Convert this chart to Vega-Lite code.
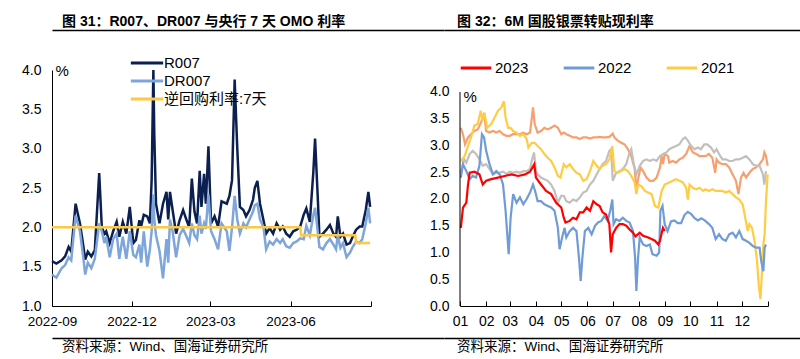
{
"$schema":"https://vega.github.io/schema/vega-lite/v6.json",
"background":"white",
"padding":{"left":8,"top":15,"right":0,"bottom":0},
"config":{"font":"Liberation Sans, Noto Sans CJK SC","view":{"stroke":null},"axis":{"grid":false,"labelColor":"#000","titleColor":"#000","domainColor":"#000","tickColor":"#000"},"legend":{"labelColor":"#000"}},
"spacing":10,
"vconcat":[
{"hconcat":[
 {"width":392,"height":13,"data":{"values":[]},"mark":{"type":"point","opacity":0},
  "encoding":{"x":{"field":"a","type":"quantitative","scale":{"domain":[0,1]},"axis":{"orient":"top","domain":true,"domainWidth":1.5,"ticks":false,"labels":false,"title":null}}},
  "title":{"text":"图 31：R007、DR007 与央行 7 天 OMO 利率","anchor":"start","dx":10,"offset":1,"fontSize":14,"fontWeight":"bold","color":"#000"}},
 {"width":383,"height":13,"data":{"values":[]},"mark":{"type":"point","opacity":0},
  "encoding":{"x":{"field":"a","type":"quantitative","scale":{"domain":[0,1]},"axis":{"orient":"top","domain":true,"domainWidth":1.5,"ticks":false,"labels":false,"title":null}}},
  "title":{"text":"图 32：6M 国股银票转贴现利率","anchor":"start","dx":13,"offset":1,"fontSize":14,"fontWeight":"bold","color":"#000"}}
],"spacing":0},
{"hconcat":[
 {"width":319,"height":236,
  "data":{"values":[
{"t":"2022-09-01","s":"R007","v":1.57},{"t":"2022-09-06","s":"R007","v":1.54},{"t":"2022-09-12","s":"R007","v":1.58},{"t":"2022-09-16","s":"R007","v":1.63},{"t":"2022-09-20","s":"R007","v":1.75},{"t":"2022-09-23","s":"R007","v":1.69},{"t":"2022-09-28","s":"R007","v":2.30},{"t":"2022-10-03","s":"R007","v":2.05},{"t":"2022-10-07","s":"R007","v":1.75},{"t":"2022-10-09","s":"R007","v":1.59},{"t":"2022-10-12","s":"R007","v":1.69},{"t":"2022-10-16","s":"R007","v":1.63},{"t":"2022-10-20","s":"R007","v":1.71},{"t":"2022-10-25","s":"R007","v":2.69},{"t":"2022-10-28","s":"R007","v":2.00},{"t":"2022-10-31","s":"R007","v":1.92},{"t":"2022-11-02","s":"R007","v":1.95},{"t":"2022-11-06","s":"R007","v":1.80},{"t":"2022-11-10","s":"R007","v":1.95},{"t":"2022-11-14","s":"R007","v":2.07},{"t":"2022-11-17","s":"R007","v":1.88},{"t":"2022-11-21","s":"R007","v":2.07},{"t":"2022-11-25","s":"R007","v":1.92},{"t":"2022-11-29","s":"R007","v":2.26},{"t":"2022-12-03","s":"R007","v":1.80},{"t":"2022-12-06","s":"R007","v":1.84},{"t":"2022-12-10","s":"R007","v":2.09},{"t":"2022-12-12","s":"R007","v":2.01},{"t":"2022-12-15","s":"R007","v":2.16},{"t":"2022-12-19","s":"R007","v":2.14},{"t":"2022-12-22","s":"R007","v":2.05},{"t":"2022-12-24","s":"R007","v":2.60},{"t":"2022-12-26","s":"R007","v":4.00},{"t":"2022-12-27","s":"R007","v":3.20},{"t":"2022-12-29","s":"R007","v":2.30},{"t":"2023-01-02","s":"R007","v":2.05},{"t":"2023-01-06","s":"R007","v":2.30},{"t":"2023-01-10","s":"R007","v":2.45},{"t":"2023-01-12","s":"R007","v":2.10},{"t":"2023-01-14","s":"R007","v":2.45},{"t":"2023-01-17","s":"R007","v":2.22},{"t":"2023-01-21","s":"R007","v":1.92},{"t":"2023-01-25","s":"R007","v":2.09},{"t":"2023-01-29","s":"R007","v":2.22},{"t":"2023-02-02","s":"R007","v":2.09},{"t":"2023-02-05","s":"R007","v":2.00},{"t":"2023-02-08","s":"R007","v":2.62},{"t":"2023-02-11","s":"R007","v":2.20},{"t":"2023-02-14","s":"R007","v":2.05},{"t":"2023-02-17","s":"R007","v":2.72},{"t":"2023-02-19","s":"R007","v":2.26},{"t":"2023-02-22","s":"R007","v":2.68},{"t":"2023-02-24","s":"R007","v":2.30},{"t":"2023-02-27","s":"R007","v":3.03},{"t":"2023-03-02","s":"R007","v":2.05},{"t":"2023-03-06","s":"R007","v":2.14},{"t":"2023-03-10","s":"R007","v":2.01},{"t":"2023-03-14","s":"R007","v":2.33},{"t":"2023-03-20","s":"R007","v":2.30},{"t":"2023-03-23","s":"R007","v":2.40},{"t":"2023-03-26","s":"R007","v":2.60},{"t":"2023-03-29","s":"R007","v":3.88},{"t":"2023-04-01","s":"R007","v":3.00},{"t":"2023-04-04","s":"R007","v":2.26},{"t":"2023-04-08","s":"R007","v":2.22},{"t":"2023-04-11","s":"R007","v":2.14},{"t":"2023-04-15","s":"R007","v":2.22},{"t":"2023-04-19","s":"R007","v":2.35},{"t":"2023-04-21","s":"R007","v":2.50},{"t":"2023-04-24","s":"R007","v":2.59},{"t":"2023-04-27","s":"R007","v":2.30},{"t":"2023-05-01","s":"R007","v":2.09},{"t":"2023-05-04","s":"R007","v":1.92},{"t":"2023-05-08","s":"R007","v":1.99},{"t":"2023-05-12","s":"R007","v":1.92},{"t":"2023-05-16","s":"R007","v":2.05},{"t":"2023-05-20","s":"R007","v":1.97},{"t":"2023-05-23","s":"R007","v":2.01},{"t":"2023-05-27","s":"R007","v":1.92},{"t":"2023-05-31","s":"R007","v":1.88},{"t":"2023-06-04","s":"R007","v":1.95},{"t":"2023-06-08","s":"R007","v":1.97},{"t":"2023-06-12","s":"R007","v":2.01},{"t":"2023-06-16","s":"R007","v":2.16},{"t":"2023-06-19","s":"R007","v":2.24},{"t":"2023-06-23","s":"R007","v":2.07},{"t":"2023-06-27","s":"R007","v":2.70},{"t":"2023-06-29","s":"R007","v":3.13},{"t":"2023-07-02","s":"R007","v":2.40},{"t":"2023-07-04","s":"R007","v":1.88},{"t":"2023-07-08","s":"R007","v":1.92},{"t":"2023-07-12","s":"R007","v":1.97},{"t":"2023-07-16","s":"R007","v":2.03},{"t":"2023-07-20","s":"R007","v":1.92},{"t":"2023-07-23","s":"R007","v":1.88},{"t":"2023-07-25","s":"R007","v":2.14},{"t":"2023-07-28","s":"R007","v":1.88},{"t":"2023-07-31","s":"R007","v":1.92},{"t":"2023-08-04","s":"R007","v":1.78},{"t":"2023-08-08","s":"R007","v":1.80},{"t":"2023-08-11","s":"R007","v":1.88},{"t":"2023-08-15","s":"R007","v":1.97},{"t":"2023-08-19","s":"R007","v":2.01},{"t":"2023-08-22","s":"R007","v":2.01},{"t":"2023-08-26","s":"R007","v":2.22},{"t":"2023-08-29","s":"R007","v":2.45},{"t":"2023-08-31","s":"R007","v":2.26},
{"t":"2022-09-01","s":"DR007","v":1.40},{"t":"2022-09-06","s":"DR007","v":1.36},{"t":"2022-09-12","s":"DR007","v":1.48},{"t":"2022-09-16","s":"DR007","v":1.52},{"t":"2022-09-20","s":"DR007","v":1.62},{"t":"2022-09-23","s":"DR007","v":1.58},{"t":"2022-09-28","s":"DR007","v":2.15},{"t":"2022-10-03","s":"DR007","v":1.95},{"t":"2022-10-07","s":"DR007","v":1.60},{"t":"2022-10-09","s":"DR007","v":1.40},{"t":"2022-10-12","s":"DR007","v":1.55},{"t":"2022-10-16","s":"DR007","v":1.48},{"t":"2022-10-20","s":"DR007","v":1.60},{"t":"2022-10-25","s":"DR007","v":2.05},{"t":"2022-10-28","s":"DR007","v":1.95},{"t":"2022-10-31","s":"DR007","v":1.80},{"t":"2022-11-02","s":"DR007","v":1.88},{"t":"2022-11-06","s":"DR007","v":1.62},{"t":"2022-11-10","s":"DR007","v":1.85},{"t":"2022-11-14","s":"DR007","v":1.92},{"t":"2022-11-17","s":"DR007","v":1.60},{"t":"2022-11-21","s":"DR007","v":1.88},{"t":"2022-11-25","s":"DR007","v":1.60},{"t":"2022-11-29","s":"DR007","v":1.95},{"t":"2022-12-03","s":"DR007","v":1.65},{"t":"2022-12-06","s":"DR007","v":1.62},{"t":"2022-12-10","s":"DR007","v":1.78},{"t":"2022-12-12","s":"DR007","v":1.55},{"t":"2022-12-15","s":"DR007","v":1.95},{"t":"2022-12-19","s":"DR007","v":1.50},{"t":"2022-12-22","s":"DR007","v":1.72},{"t":"2022-12-24","s":"DR007","v":1.95},{"t":"2022-12-26","s":"DR007","v":2.42},{"t":"2022-12-27","s":"DR007","v":2.10},{"t":"2022-12-29","s":"DR007","v":1.90},{"t":"2023-01-02","s":"DR007","v":1.70},{"t":"2023-01-06","s":"DR007","v":1.35},{"t":"2023-01-10","s":"DR007","v":1.85},{"t":"2023-01-12","s":"DR007","v":1.55},{"t":"2023-01-14","s":"DR007","v":2.10},{"t":"2023-01-17","s":"DR007","v":1.95},{"t":"2023-01-21","s":"DR007","v":1.62},{"t":"2023-01-25","s":"DR007","v":1.90},{"t":"2023-01-29","s":"DR007","v":1.98},{"t":"2023-02-02","s":"DR007","v":1.88},{"t":"2023-02-05","s":"DR007","v":1.80},{"t":"2023-02-08","s":"DR007","v":2.05},{"t":"2023-02-11","s":"DR007","v":1.90},{"t":"2023-02-14","s":"DR007","v":1.85},{"t":"2023-02-17","s":"DR007","v":2.15},{"t":"2023-02-19","s":"DR007","v":1.92},{"t":"2023-02-22","s":"DR007","v":2.05},{"t":"2023-02-24","s":"DR007","v":1.98},{"t":"2023-02-27","s":"DR007","v":2.42},{"t":"2023-03-02","s":"DR007","v":1.95},{"t":"2023-03-06","s":"DR007","v":1.85},{"t":"2023-03-10","s":"DR007","v":1.72},{"t":"2023-03-14","s":"DR007","v":2.05},{"t":"2023-03-20","s":"DR007","v":1.95},{"t":"2023-03-23","s":"DR007","v":1.70},{"t":"2023-03-26","s":"DR007","v":2.00},{"t":"2023-03-29","s":"DR007","v":2.40},{"t":"2023-04-01","s":"DR007","v":2.10},{"t":"2023-04-04","s":"DR007","v":1.92},{"t":"2023-04-08","s":"DR007","v":2.05},{"t":"2023-04-11","s":"DR007","v":2.00},{"t":"2023-04-15","s":"DR007","v":2.10},{"t":"2023-04-19","s":"DR007","v":2.20},{"t":"2023-04-21","s":"DR007","v":2.28},{"t":"2023-04-24","s":"DR007","v":2.30},{"t":"2023-04-27","s":"DR007","v":2.10},{"t":"2023-05-01","s":"DR007","v":2.00},{"t":"2023-05-04","s":"DR007","v":1.72},{"t":"2023-05-08","s":"DR007","v":1.82},{"t":"2023-05-12","s":"DR007","v":1.78},{"t":"2023-05-16","s":"DR007","v":1.85},{"t":"2023-05-20","s":"DR007","v":1.80},{"t":"2023-05-23","s":"DR007","v":1.85},{"t":"2023-05-27","s":"DR007","v":1.76},{"t":"2023-05-31","s":"DR007","v":1.74},{"t":"2023-06-04","s":"DR007","v":1.80},{"t":"2023-06-08","s":"DR007","v":1.82},{"t":"2023-06-12","s":"DR007","v":1.86},{"t":"2023-06-16","s":"DR007","v":1.85},{"t":"2023-06-19","s":"DR007","v":2.02},{"t":"2023-06-23","s":"DR007","v":1.90},{"t":"2023-06-27","s":"DR007","v":2.15},{"t":"2023-06-29","s":"DR007","v":2.25},{"t":"2023-07-02","s":"DR007","v":1.95},{"t":"2023-07-04","s":"DR007","v":1.75},{"t":"2023-07-08","s":"DR007","v":1.72},{"t":"2023-07-12","s":"DR007","v":1.80},{"t":"2023-07-16","s":"DR007","v":1.85},{"t":"2023-07-20","s":"DR007","v":1.78},{"t":"2023-07-23","s":"DR007","v":1.72},{"t":"2023-07-25","s":"DR007","v":1.90},{"t":"2023-07-28","s":"DR007","v":1.74},{"t":"2023-07-31","s":"DR007","v":1.80},{"t":"2023-08-04","s":"DR007","v":1.62},{"t":"2023-08-08","s":"DR007","v":1.68},{"t":"2023-08-11","s":"DR007","v":1.75},{"t":"2023-08-15","s":"DR007","v":1.82},{"t":"2023-08-19","s":"DR007","v":1.80},{"t":"2023-08-22","s":"DR007","v":1.85},{"t":"2023-08-26","s":"DR007","v":2.05},{"t":"2023-08-29","s":"DR007","v":2.25},{"t":"2023-08-31","s":"DR007","v":2.05},
{"t":"2022-09-01","s":"逆回购利率:7天","v":2.0},{"t":"2023-06-12","s":"逆回购利率:7天","v":2.0},{"t":"2023-06-13","s":"逆回购利率:7天","v":1.9},{"t":"2023-08-14","s":"逆回购利率:7天","v":1.9},{"t":"2023-08-15","s":"逆回购利率:7天","v":1.8},{"t":"2023-08-31","s":"逆回购利率:7天","v":1.8}
  ]},
  "mark":{"type":"line","strokeWidth":2.5},
  "encoding":{
   "x":{"field":"t","type":"temporal","scale":{"type":"utc","domain":[{"year":2022,"month":9,"date":1,"utc":true},{"year":2023,"month":9,"date":1,"utc":true}]},
        "axis":{"values":[{"year":2022,"month":9,"date":1,"utc":true},{"year":2022,"month":12,"date":1,"utc":true},{"year":2023,"month":3,"date":1,"utc":true},{"year":2023,"month":6,"date":1,"utc":true},{"year":2023,"month":9,"date":1,"utc":true}],"tickCount":20,
        "labelExpr":"utcFormat(datum.value, '%Y-%m') == '2023-09' ? '' : utcFormat(datum.value, '%Y-%m')","title":null,"tickSize":-5,"labelPadding":13,"labelFontSize":13.5,"labelFlush":false,"labelOverlap":false}},
   "y":{"field":"v","type":"quantitative","scale":{"domain":[1,4],"nice":false,"zero":false},
        "axis":{"values":[1,1.5,2,2.5,3,3.5,4],"tickCount":20,"format":".1f","title":"%","titleAngle":0,"titleX":3,"titleY":0,"titleAlign":"left","titleBaseline":"middle","titleFontSize":15,"titleFontWeight":"normal","ticks":false,"labelPadding":11,"labelFontSize":14,"minExtent":44}},
   "color":{"field":"s","type":"nominal","scale":{"domain":["R007","DR007","逆回购利率:7天"],"range":["#0b1f50","#7ea6da","#fdc842"]},
        "legend":{"orient":"none","legendX":85,"legendY":-17,"title":null,"symbolType":"M-1.9,0H1.9","symbolSize":289,"symbolStrokeWidth":3,"symbolFillColor":"transparent","labelFontSize":15,"labelOffset":7,"rowPadding":0}}
  }},
 {"width":308,"height":236,
  "data":{"values":[
{"y":"2019","d":1,"v":3.33},{"y":"2019","d":3.5,"v":3.21},{"y":"2019","d":6,"v":3.02},{"y":"2019","d":9.5,"v":3.15},{"y":"2019","d":13,"v":3.21},{"y":"2019","d":17,"v":3.27},{"y":"2019","d":21,"v":3.30},{"y":"2019","d":25,"v":3.43},{"y":"2019","d":28.5,"v":3.61},{"y":"2019","d":31,"v":3.27},{"y":"2019","d":35,"v":3.24},{"y":"2019","d":39,"v":3.27},{"y":"2019","d":43,"v":3.24},{"y":"2019","d":47,"v":3.27},{"y":"2019","d":51,"v":3.21},{"y":"2019","d":55,"v":3.18},{"y":"2019","d":59,"v":3.18},{"y":"2019","d":63,"v":3.21},{"y":"2019","d":67,"v":3.21},{"y":"2019","d":71,"v":3.21},{"y":"2019","d":75,"v":3.24},{"y":"2019","d":79,"v":3.21},{"y":"2019","d":83,"v":3.24},{"y":"2019","d":84.5,"v":3.43},{"y":"2019","d":86.5,"v":3.71},{"y":"2019","d":88.5,"v":3.40},{"y":"2019","d":92,"v":3.24},{"y":"2019","d":96,"v":3.27},{"y":"2019","d":100,"v":3.33},{"y":"2019","d":104,"v":3.30},{"y":"2019","d":108,"v":3.33},{"y":"2019","d":112,"v":3.37},{"y":"2019","d":116,"v":3.33},{"y":"2019","d":120,"v":3.21},{"y":"2019","d":123,"v":3.24},{"y":"2019","d":126,"v":3.21},{"y":"2019","d":130,"v":3.18},{"y":"2019","d":134,"v":3.15},{"y":"2019","d":138,"v":3.15},{"y":"2019","d":142,"v":3.12},{"y":"2019","d":146,"v":3.15},{"y":"2019","d":150,"v":3.15},{"y":"2019","d":154,"v":3.13},{"y":"2019","d":158,"v":3.15},{"y":"2019","d":162,"v":3.15},{"y":"2019","d":165.5,"v":3.16},{"y":"2019","d":169,"v":3.15},{"y":"2019","d":173,"v":3.15},{"y":"2019","d":177,"v":3.16},{"y":"2019","d":181,"v":3.22},{"y":"2019","d":183,"v":3.15},{"y":"2019","d":187,"v":3.09},{"y":"2019","d":191,"v":3.05},{"y":"2019","d":195,"v":3.02},{"y":"2019","d":199,"v":2.93},{"y":"2019","d":203,"v":2.80},{"y":"2019","d":207,"v":2.56},{"y":"2019","d":209,"v":2.15},{"y":"2019","d":211,"v":2.37},{"y":"2019","d":214,"v":2.59},{"y":"2019","d":217,"v":2.52},{"y":"2019","d":221,"v":2.40},{"y":"2019","d":225,"v":2.34},{"y":"2019","d":229,"v":2.34},{"y":"2019","d":233,"v":2.40},{"y":"2019","d":237,"v":2.59},{"y":"2019","d":239,"v":2.80},{"y":"2019","d":240.6,"v":2.65},{"y":"2019","d":242.6,"v":2.84},{"y":"2019","d":246.5,"v":2.80},{"y":"2019","d":248,"v":2.68},{"y":"2019","d":252,"v":2.71},{"y":"2019","d":256,"v":2.68},{"y":"2019","d":260,"v":2.74},{"y":"2019","d":264,"v":2.77},{"y":"2019","d":268,"v":2.84},{"y":"2019","d":272,"v":2.99},{"y":"2019","d":276,"v":2.87},{"y":"2019","d":280,"v":2.84},{"y":"2019","d":284,"v":2.80},{"y":"2019","d":288,"v":2.80},{"y":"2019","d":291,"v":2.80},{"y":"2019","d":295,"v":2.84},{"y":"2019","d":299,"v":2.77},{"y":"2019","d":302.5,"v":2.49},{"y":"2019","d":304,"v":2.74},{"y":"2019","d":307,"v":2.68},{"y":"2019","d":311,"v":2.65},{"y":"2019","d":315,"v":2.65},{"y":"2019","d":319,"v":2.59},{"y":"2019","d":323,"v":2.46},{"y":"2019","d":327,"v":2.34},{"y":"2019","d":330,"v":2.09},{"y":"2019","d":333,"v":2.40},{"y":"2019","d":336,"v":2.49},{"y":"2019","d":339,"v":2.40},{"y":"2019","d":343,"v":2.49},{"y":"2019","d":347,"v":2.56},{"y":"2019","d":351,"v":2.59},{"y":"2019","d":355,"v":2.65},{"y":"2019","d":359,"v":2.74},{"y":"2019","d":360.7,"v":2.87},{"y":"2019","d":362.6,"v":2.80},{"y":"2019","d":364.6,"v":2.62},
{"y":"2020","d":1,"v":2.49},{"y":"2020","d":5,"v":2.74},{"y":"2020","d":7.5,"v":2.68},{"y":"2020","d":11.5,"v":2.84},{"y":"2020","d":15,"v":2.90},{"y":"2020","d":19,"v":2.84},{"y":"2020","d":23,"v":2.74},{"y":"2020","d":27,"v":2.62},{"y":"2020","d":31,"v":2.65},{"y":"2020","d":35,"v":2.56},{"y":"2020","d":39,"v":2.46},{"y":"2020","d":43,"v":2.49},{"y":"2020","d":47,"v":2.49},{"y":"2020","d":51,"v":2.51},{"y":"2020","d":55,"v":2.47},{"y":"2020","d":59,"v":2.51},{"y":"2020","d":63,"v":2.49},{"y":"2020","d":67,"v":2.51},{"y":"2020","d":71,"v":2.49},{"y":"2020","d":75,"v":2.52},{"y":"2020","d":79,"v":2.52},{"y":"2020","d":83,"v":2.56},{"y":"2020","d":85,"v":2.71},{"y":"2020","d":87.7,"v":2.87},{"y":"2020","d":90,"v":2.52},{"y":"2020","d":92,"v":2.46},{"y":"2020","d":96,"v":2.40},{"y":"2020","d":100,"v":2.37},{"y":"2020","d":104,"v":2.34},{"y":"2020","d":108,"v":2.27},{"y":"2020","d":112,"v":2.15},{"y":"2020","d":116,"v":1.93},{"y":"2020","d":120,"v":2.06},{"y":"2020","d":123,"v":2.06},{"y":"2020","d":126,"v":1.96},{"y":"2020","d":130,"v":1.93},{"y":"2020","d":134,"v":1.99},{"y":"2020","d":138,"v":1.96},{"y":"2020","d":142,"v":2.03},{"y":"2020","d":146,"v":2.12},{"y":"2020","d":150,"v":2.15},{"y":"2020","d":154,"v":2.27},{"y":"2020","d":158,"v":2.34},{"y":"2020","d":162,"v":2.46},{"y":"2020","d":165.5,"v":2.56},{"y":"2020","d":169,"v":2.65},{"y":"2020","d":173,"v":2.71},{"y":"2020","d":177,"v":2.90},{"y":"2020","d":179,"v":2.93},{"y":"2020","d":181,"v":2.34},{"y":"2020","d":185,"v":2.49},{"y":"2020","d":189,"v":2.52},{"y":"2020","d":193,"v":2.56},{"y":"2020","d":197,"v":2.65},{"y":"2020","d":201,"v":2.87},{"y":"2020","d":203,"v":2.93},{"y":"2020","d":206,"v":2.65},{"y":"2020","d":209,"v":2.46},{"y":"2020","d":213,"v":2.62},{"y":"2020","d":217,"v":2.71},{"y":"2020","d":221,"v":2.74},{"y":"2020","d":225,"v":2.71},{"y":"2020","d":229,"v":2.74},{"y":"2020","d":233,"v":2.71},{"y":"2020","d":237,"v":2.80},{"y":"2020","d":241,"v":2.84},{"y":"2020","d":244.5,"v":2.87},{"y":"2020","d":248,"v":2.93},{"y":"2020","d":252,"v":2.96},{"y":"2020","d":256,"v":2.99},{"y":"2020","d":260,"v":3.02},{"y":"2020","d":264,"v":3.12},{"y":"2020","d":267,"v":3.15},{"y":"2020","d":270,"v":3.09},{"y":"2020","d":274,"v":2.99},{"y":"2020","d":278,"v":2.93},{"y":"2020","d":282,"v":2.96},{"y":"2020","d":285.5,"v":2.93},{"y":"2020","d":289.5,"v":3.02},{"y":"2020","d":293,"v":3.02},{"y":"2020","d":297.5,"v":2.96},{"y":"2020","d":301,"v":2.87},{"y":"2020","d":304,"v":2.93},{"y":"2020","d":307,"v":2.84},{"y":"2020","d":311,"v":2.74},{"y":"2020","d":315,"v":2.74},{"y":"2020","d":319,"v":2.71},{"y":"2020","d":323,"v":2.71},{"y":"2020","d":327,"v":2.74},{"y":"2020","d":331,"v":2.74},{"y":"2020","d":335,"v":2.77},{"y":"2020","d":339,"v":2.80},{"y":"2020","d":343,"v":2.74},{"y":"2020","d":347,"v":2.65},{"y":"2020","d":351,"v":2.62},{"y":"2020","d":355,"v":2.62},{"y":"2020","d":359,"v":2.46},{"y":"2020","d":360.7,"v":2.27},{"y":"2020","d":362.6,"v":2.52},
{"y":"2021","d":1,"v":2.71},{"y":"2021","d":5.5,"v":2.80},{"y":"2021","d":9.5,"v":2.99},{"y":"2021","d":13,"v":3.15},{"y":"2021","d":17,"v":3.37},{"y":"2021","d":21,"v":3.40},{"y":"2021","d":24.5,"v":3.65},{"y":"2021","d":26.5,"v":3.46},{"y":"2021","d":29,"v":3.61},{"y":"2021","d":32,"v":3.33},{"y":"2021","d":37,"v":3.40},{"y":"2021","d":41,"v":3.52},{"y":"2021","d":45,"v":3.65},{"y":"2021","d":49,"v":3.71},{"y":"2021","d":52,"v":3.83},{"y":"2021","d":54,"v":3.52},{"y":"2021","d":57,"v":3.33},{"y":"2021","d":60,"v":3.33},{"y":"2021","d":63,"v":3.27},{"y":"2021","d":67,"v":3.24},{"y":"2021","d":71,"v":3.18},{"y":"2021","d":75,"v":3.21},{"y":"2021","d":79,"v":3.12},{"y":"2021","d":81,"v":2.96},{"y":"2021","d":85,"v":3.05},{"y":"2021","d":88.5,"v":3.05},{"y":"2021","d":92,"v":2.99},{"y":"2021","d":96,"v":2.93},{"y":"2021","d":100,"v":2.84},{"y":"2021","d":104,"v":2.77},{"y":"2021","d":108,"v":2.71},{"y":"2021","d":112,"v":2.59},{"y":"2021","d":116,"v":2.43},{"y":"2021","d":119,"v":2.40},{"y":"2021","d":123,"v":2.65},{"y":"2021","d":126,"v":2.59},{"y":"2021","d":130,"v":2.65},{"y":"2021","d":134,"v":2.56},{"y":"2021","d":138,"v":2.49},{"y":"2021","d":142,"v":2.46},{"y":"2021","d":146,"v":2.34},{"y":"2021","d":150,"v":2.37},{"y":"2021","d":154,"v":2.52},{"y":"2021","d":158,"v":2.71},{"y":"2021","d":162,"v":2.62},{"y":"2021","d":165.5,"v":2.56},{"y":"2021","d":169,"v":2.62},{"y":"2021","d":173,"v":2.65},{"y":"2021","d":177,"v":2.74},{"y":"2021","d":180.5,"v":2.99},{"y":"2021","d":183,"v":2.52},{"y":"2021","d":187,"v":2.49},{"y":"2021","d":191,"v":2.52},{"y":"2021","d":195,"v":2.56},{"y":"2021","d":199,"v":2.52},{"y":"2021","d":203,"v":2.43},{"y":"2021","d":207,"v":2.31},{"y":"2021","d":209,"v":2.09},{"y":"2021","d":211,"v":2.27},{"y":"2021","d":215,"v":2.24},{"y":"2021","d":219,"v":2.15},{"y":"2021","d":223,"v":2.12},{"y":"2021","d":227,"v":2.09},{"y":"2021","d":231,"v":1.87},{"y":"2021","d":235,"v":1.84},{"y":"2021","d":239,"v":2.15},{"y":"2021","d":242.6,"v":2.27},{"y":"2021","d":248,"v":2.31},{"y":"2021","d":252,"v":2.34},{"y":"2021","d":256,"v":2.37},{"y":"2021","d":260,"v":2.34},{"y":"2021","d":264,"v":2.31},{"y":"2021","d":268,"v":2.21},{"y":"2021","d":270,"v":1.99},{"y":"2021","d":272,"v":2.27},{"y":"2021","d":276,"v":2.21},{"y":"2021","d":280,"v":2.18},{"y":"2021","d":284,"v":2.21},{"y":"2021","d":288,"v":2.15},{"y":"2021","d":291,"v":2.18},{"y":"2021","d":295,"v":2.15},{"y":"2021","d":299,"v":2.18},{"y":"2021","d":303,"v":2.15},{"y":"2021","d":307,"v":2.15},{"y":"2021","d":311,"v":2.15},{"y":"2021","d":315,"v":2.12},{"y":"2021","d":319,"v":2.15},{"y":"2021","d":323,"v":2.09},{"y":"2021","d":327,"v":2.03},{"y":"2021","d":331,"v":1.99},{"y":"2021","d":335,"v":1.90},{"y":"2021","d":338,"v":1.65},{"y":"2021","d":341,"v":1.40},{"y":"2021","d":343,"v":1.53},{"y":"2021","d":346,"v":1.46},{"y":"2021","d":349,"v":1.22},{"y":"2021","d":352,"v":0.84},{"y":"2021","d":354,"v":0.40},{"y":"2021","d":356,"v":0.13},{"y":"2021","d":358,"v":0.65},{"y":"2021","d":359.5,"v":1.15},{"y":"2021","d":361,"v":1.34},{"y":"2021","d":362.6,"v":1.96},{"y":"2021","d":364.6,"v":2.46},
{"y":"2022","d":1,"v":2.40},{"y":"2022","d":3.5,"v":2.65},{"y":"2022","d":7.5,"v":2.52},{"y":"2022","d":11.5,"v":2.37},{"y":"2022","d":15,"v":2.43},{"y":"2022","d":19,"v":2.40},{"y":"2022","d":23,"v":2.62},{"y":"2022","d":26,"v":3.21},{"y":"2022","d":28.5,"v":3.15},{"y":"2022","d":31,"v":2.90},{"y":"2022","d":35,"v":2.65},{"y":"2022","d":39,"v":2.46},{"y":"2022","d":43,"v":2.52},{"y":"2022","d":47,"v":2.46},{"y":"2022","d":51,"v":2.27},{"y":"2022","d":54,"v":1.78},{"y":"2022","d":57.7,"v":0.97},{"y":"2022","d":60,"v":1.65},{"y":"2022","d":63,"v":2.09},{"y":"2022","d":67,"v":1.93},{"y":"2022","d":71,"v":2.03},{"y":"2022","d":75,"v":1.90},{"y":"2022","d":79,"v":2.00},{"y":"2022","d":83,"v":2.12},{"y":"2022","d":86.5,"v":2.27},{"y":"2022","d":89,"v":2.15},{"y":"2022","d":92,"v":1.96},{"y":"2022","d":96,"v":1.96},{"y":"2022","d":100,"v":1.90},{"y":"2022","d":104,"v":1.87},{"y":"2022","d":108,"v":1.84},{"y":"2022","d":112,"v":1.78},{"y":"2022","d":116,"v":1.46},{"y":"2022","d":118,"v":1.06},{"y":"2022","d":121,"v":1.28},{"y":"2022","d":124,"v":1.46},{"y":"2022","d":126,"v":1.28},{"y":"2022","d":130,"v":1.40},{"y":"2022","d":134,"v":1.46},{"y":"2022","d":138,"v":1.40},{"y":"2022","d":141,"v":0.90},{"y":"2022","d":143,"v":0.47},{"y":"2022","d":145,"v":0.90},{"y":"2022","d":148,"v":1.40},{"y":"2022","d":152,"v":1.46},{"y":"2022","d":156,"v":1.34},{"y":"2022","d":160,"v":1.50},{"y":"2022","d":163.5,"v":1.56},{"y":"2022","d":167.5,"v":1.59},{"y":"2022","d":171,"v":1.68},{"y":"2022","d":175,"v":1.59},{"y":"2022","d":178,"v":1.78},{"y":"2022","d":180.5,"v":1.99},{"y":"2022","d":182,"v":1.53},{"y":"2022","d":185,"v":1.62},{"y":"2022","d":189,"v":1.59},{"y":"2022","d":193,"v":1.65},{"y":"2022","d":197,"v":1.59},{"y":"2022","d":201,"v":1.56},{"y":"2022","d":205,"v":1.40},{"y":"2022","d":207.5,"v":0.90},{"y":"2022","d":209,"v":0.28},{"y":"2022","d":211,"v":0.90},{"y":"2022","d":213,"v":1.28},{"y":"2022","d":217,"v":1.15},{"y":"2022","d":221,"v":1.12},{"y":"2022","d":225,"v":1.15},{"y":"2022","d":228,"v":0.97},{"y":"2022","d":233,"v":0.94},{"y":"2022","d":236,"v":1.00},{"y":"2022","d":237.5,"v":1.78},{"y":"2022","d":240,"v":1.87},{"y":"2022","d":242.6,"v":1.53},{"y":"2022","d":246,"v":1.40},{"y":"2022","d":250,"v":1.58},{"y":"2022","d":254,"v":1.60},{"y":"2022","d":258,"v":1.55},{"y":"2022","d":262,"v":1.55},{"y":"2022","d":266,"v":1.70},{"y":"2022","d":270,"v":1.76},{"y":"2022","d":274,"v":1.72},{"y":"2022","d":278,"v":1.64},{"y":"2022","d":282,"v":1.60},{"y":"2022","d":286,"v":1.64},{"y":"2022","d":290,"v":1.60},{"y":"2022","d":295,"v":1.53},{"y":"2022","d":299,"v":1.46},{"y":"2022","d":303,"v":1.25},{"y":"2022","d":307,"v":1.34},{"y":"2022","d":311,"v":1.25},{"y":"2022","d":315,"v":1.22},{"y":"2022","d":319,"v":1.34},{"y":"2022","d":323,"v":1.37},{"y":"2022","d":327,"v":1.28},{"y":"2022","d":331,"v":1.40},{"y":"2022","d":335,"v":1.25},{"y":"2022","d":339,"v":1.22},{"y":"2022","d":343,"v":1.18},{"y":"2022","d":347,"v":1.12},{"y":"2022","d":351,"v":1.09},{"y":"2022","d":355,"v":1.09},{"y":"2022","d":357,"v":0.84},{"y":"2022","d":359.5,"v":0.65},{"y":"2022","d":361,"v":1.09},{"y":"2022","d":362.6,"v":1.15},
{"y":"2023","d":1,"v":1.46},{"y":"2023","d":3.5,"v":1.84},{"y":"2023","d":7.5,"v":1.93},{"y":"2023","d":9.5,"v":2.27},{"y":"2023","d":11.5,"v":2.49},{"y":"2023","d":17,"v":2.51},{"y":"2023","d":23,"v":2.46},{"y":"2023","d":27,"v":2.27},{"y":"2023","d":31,"v":2.34},{"y":"2023","d":37,"v":2.37},{"y":"2023","d":45,"v":2.40},{"y":"2023","d":53,"v":2.43},{"y":"2023","d":61,"v":2.46},{"y":"2023","d":69,"v":2.43},{"y":"2023","d":77,"v":2.46},{"y":"2023","d":83,"v":2.51},{"y":"2023","d":88,"v":2.65},{"y":"2023","d":90,"v":2.40},{"y":"2023","d":96,"v":2.27},{"y":"2023","d":102,"v":2.15},{"y":"2023","d":108,"v":2.09},{"y":"2023","d":114,"v":1.93},{"y":"2023","d":120,"v":1.84},{"y":"2023","d":123,"v":1.65},{"y":"2023","d":125,"v":1.56},{"y":"2023","d":130,"v":1.59},{"y":"2023","d":134,"v":1.65},{"y":"2023","d":138,"v":1.62},{"y":"2023","d":142,"v":1.75},{"y":"2023","d":146,"v":1.75},{"y":"2023","d":150,"v":1.84},{"y":"2023","d":154,"v":1.78},{"y":"2023","d":158,"v":1.96},{"y":"2023","d":162,"v":1.90},{"y":"2023","d":165.5,"v":1.87},{"y":"2023","d":169,"v":1.75},{"y":"2023","d":173,"v":1.71},{"y":"2023","d":177,"v":1.53},{"y":"2023","d":179,"v":1.00},{"y":"2023","d":181,"v":1.34},{"y":"2023","d":185,"v":1.46},{"y":"2023","d":189,"v":1.53},{"y":"2023","d":193,"v":1.53},{"y":"2023","d":197,"v":1.50},{"y":"2023","d":201,"v":1.43},{"y":"2023","d":205,"v":1.37},{"y":"2023","d":208,"v":1.30},{"y":"2023","d":213,"v":1.37},{"y":"2023","d":217,"v":1.31},{"y":"2023","d":223,"v":1.28},{"y":"2023","d":227,"v":1.25},{"y":"2023","d":231,"v":1.22},{"y":"2023","d":235,"v":1.15},{"y":"2023","d":237,"v":1.22},{"y":"2023","d":240.5,"v":1.46},{"y":"2023","d":242.5,"v":1.40}
  ]},
  "layer":[
   {"transform":[{"filter":"datum.y == '2019'"}],
    "mark":{"type":"line","strokeWidth":2.2,"color":"#f6a070"},
    "encoding":{
     "x":{"field":"d","type":"quantitative","scale":{"domain":[0,365],"nice":false,"zero":false},
          "axis":{"values":[0,31,59,90,120,151,181,212,243,273,304,334,365],"tickCount":30,"labelExpr":"datum.value >= 365 ? '' : (datum.value < 273 ? '0' : '') + (indexof([0,31,59,90,120,151,181,212,243,273,304,334], datum.value) + 1)","title":null,"tickSize":-5,"labelPadding":13,"labelFontSize":14,"labelFlush":false,"labelOverlap":false}},
     "y":{"field":"v","type":"quantitative","scale":{"domain":[0,4.41],"nice":false,"zero":false},
          "axis":{"values":[0,0.5,1,1.5,2,2.5,3,3.5,4],"tickCount":20,"format":".1f","domain":false,"ticks":false,"labelPadding":11,"labelFontSize":14,"minExtent":31,"title":"%","titleAngle":0,"titleX":3,"titleY":26,"titleAlign":"left","titleBaseline":"middle","titleFontSize":15,"titleFontWeight":"normal"}}
    }},
   {"transform":[{"filter":"datum.y == '2020'"}],
    "mark":{"type":"line","strokeWidth":2.2,"color":"#c3bfbc"},
    "encoding":{
     "x":{"field":"d","type":"quantitative","scale":{"domain":[0,365],"nice":false,"zero":false}},
     "y":{"field":"v","type":"quantitative","scale":{"domain":[0,4.41],"nice":false,"zero":false}}
    }},
   {"transform":[{"filter":"datum.y == '2021' || datum.y == '2022' || datum.y == '2023'"}],
    "mark":{"type":"line","strokeWidth":2.2},
    "encoding":{
     "x":{"field":"d","type":"quantitative","scale":{"domain":[0,365],"nice":false,"zero":false}},
     "y":{"field":"v","type":"quantitative","scale":{"domain":[0,4.41],"nice":false,"zero":false}},
     "color":{"field":"y","type":"nominal","scale":{"domain":["2023","2022","2021"],"range":["#ff0000","#6f9bd7","#ffcc44"]},
          "legend":{"orient":"none","legendX":6,"legendY":-12,"direction":"horizontal","title":null,"symbolType":"M-1.8,0H1.8","symbolSize":289,"symbolStrokeWidth":3,"symbolFillColor":"transparent","labelFontSize":15,"labelOffset":9,"columnPadding":28}}
    }},
   {"data":{"values":[{"k":1}]},"mark":{"type":"rule","color":"#000","strokeWidth":1},
    "encoding":{"x":{"datum":0,"type":"quantitative"},"y":{"datum":0,"type":"quantitative"},"y2":{"datum":4}}}
  ]}
],"spacing":53,"resolve":{"scale":{"color":"independent"},"legend":{"color":"independent"}}},
{"hconcat":[
 {"width":392,"height":1,"data":{"values":[]},"mark":{"type":"point","opacity":0},
  "encoding":{"x":{"field":"a","type":"quantitative","scale":{"domain":[0,1]},"axis":{"orient":"top","domain":true,"domainWidth":1.5,"ticks":false,"labels":false,"title":null}}},
  "title":{"text":"资料来源：Wind、国海证券研究所","orient":"bottom","anchor":"start","dx":10,"offset":1,"fontSize":13.5,"fontWeight":"normal","color":"#000"}},
 {"width":383,"height":1,"data":{"values":[]},"mark":{"type":"point","opacity":0},
  "encoding":{"x":{"field":"a","type":"quantitative","scale":{"domain":[0,1]},"axis":{"orient":"top","domain":true,"domainWidth":1.5,"ticks":false,"labels":false,"title":null}}},
  "title":{"text":"资料来源：Wind、国海证券研究所","orient":"bottom","anchor":"start","dx":13,"offset":1,"fontSize":13.5,"fontWeight":"normal","color":"#000"}}
],"spacing":0}
]
}
